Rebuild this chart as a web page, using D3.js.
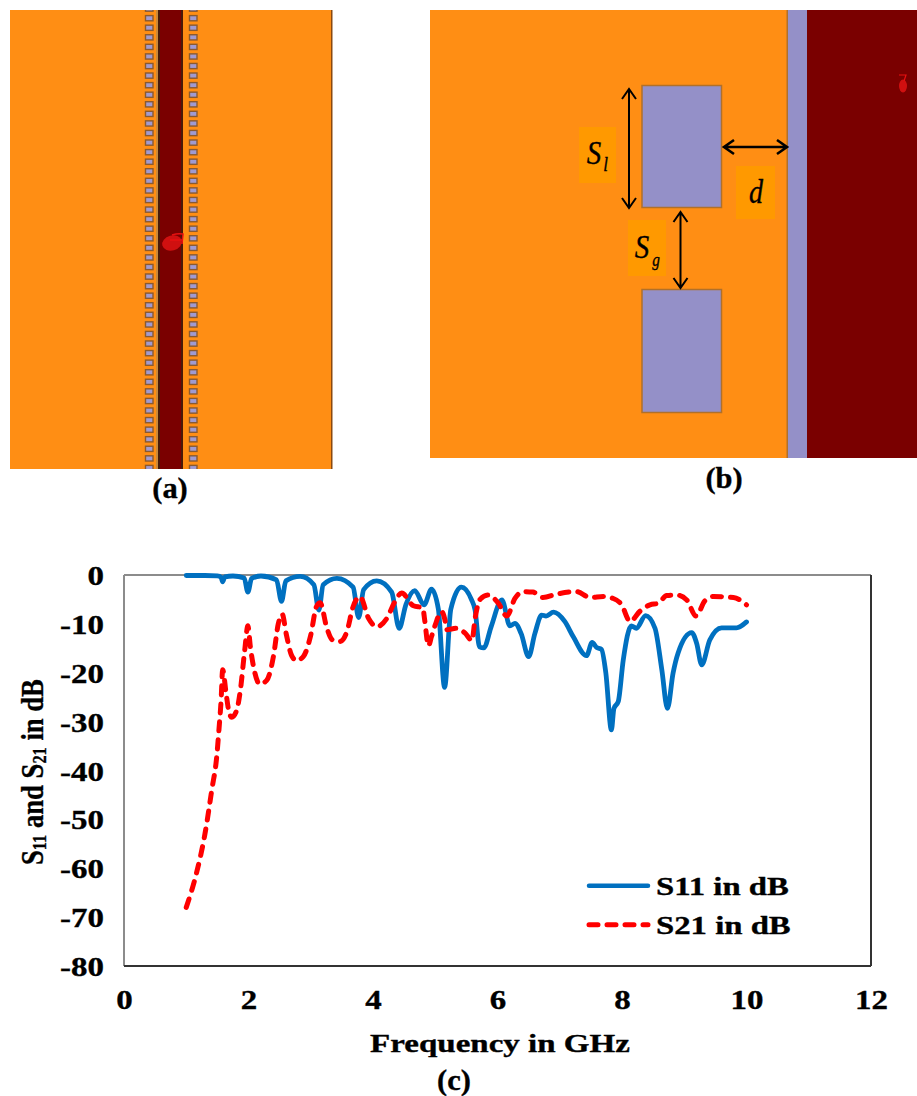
<!DOCTYPE html>
<html>
<head>
<meta charset="utf-8">
<script src="https://cdnjs.cloudflare.com/ajax/libs/d3/7.8.5/d3.min.js"></script>
<style>
  html, body { margin: 0; padding: 0; background: #fff; }
  svg { display: block; }
  text { font-family: "Liberation Serif", serif; font-weight: bold; fill: #000; stroke: #000; stroke-width: 0.35px; }
</style>
</head>
<body>
<svg id="chart" width="917" height="1096"></svg>
<script>
// S11
s11Freq = [1, 1.3, 1.5, 1.56, 1.585, 1.62, 1.75, 1.93, 1.99, 2.05, 2.2, 2.45, 2.53, 2.6, 2.83, 3.05, 3.13, 3.2, 3.42, 3.68, 3.77, 3.85, 4.06, 4.3, 4.42, 4.53, 4.67, 4.82, 4.94, 5.05, 5.15, 5.25, 5.42, 5.58, 5.64, 5.71, 5.78, 5.9, 6.07, 6.2, 6.28, 6.38, 6.5, 6.6, 6.71, 6.78, 6.9, 7.08, 7.22, 7.43, 7.52, 7.59, 7.67, 7.74, 7.83, 7.87, 7.94, 8.02, 8.15, 8.23, 8.38, 8.53, 8.64, 8.73, 8.82, 8.9, 9.12, 9.2, 9.28, 9.41, 9.6, 9.84, 10];
s11Db = [-0.1, -0.1, -0.2, -0.5, -1.4, -0.4, -0.2, -0.6, -3.5, -0.7, -0.2, -1, -5.4, -1.2, -0.3, -2, -7.2, -2, -0.7, -2.5, -8.7, -3, -1.2, -3.5, -10.9, -6, -3.2, -6.1, -2.9, -7, -23, -7, -2.5, -5, -7.2, -14.7, -14.9, -10.5, -5.1, -10.4, -9.9, -12, -16.7, -12, -8.2, -8.4, -7.6, -9.5, -12.7, -16.5, -13.8, -14.8, -15.2, -20, -31.7, -27.3, -25.9, -17.4, -10.4, -10.9, -8.3, -10.9, -19.4, -27.3, -20.1, -16, -11.8, -14, -18.4, -13.3, -10.8, -10.8, -9.6];

// S21
s21Freq = [1, 1.17, 1.3, 1.41, 1.49, 1.525, 1.56, 1.585, 1.64, 1.68, 1.73, 1.81, 1.87, 1.94, 1.99, 2.03, 2.08, 2.18, 2.29, 2.4, 2.48, 2.54, 2.61, 2.69, 2.77, 2.88, 3, 3.09, 3.15, 3.26, 3.35, 3.47, 3.58, 3.68, 3.79, 3.93, 4.06, 4.22, 4.35, 4.46, 4.65, 4.8, 4.83, 4.89, 4.94, 5, 5.1, 5.16, 5.18, 5.34, 5.48, 5.59, 5.64, 5.72, 5.85, 6.01, 6.15, 6.28, 6.41, 6.57, 6.73, 6.95, 7.27, 7.49, 7.7, 7.86, 7.99, 8.13, 8.29, 8.45, 8.58, 8.72, 8.88, 9.04, 9.19, 9.33, 9.47, 9.79, 10];
s21Db = [-68, -60.7, -53, -44, -37.1, -31.7, -25.6, -19.4, -24.2, -27.6, -29.1, -27.7, -23.5, -15.3, -10.4, -14.7, -18.7, -22.3, -21.6, -16.7, -9.9, -8, -12.3, -16.4, -17.5, -16.7, -12.3, -6.5, -5.7, -10.9, -13.3, -13.6, -11.6, -6.5, -4.4, -8.9, -10.6, -8.9, -5.5, -3.7, -6.3, -6.7, -9.2, -14.5, -12.6, -10.2, -7.5, -9.5, -11.2, -10.9, -11.9, -13.4, -8.9, -5, -4.1, -5.7, -8.4, -4.8, -3.4, -3.5, -4.6, -3.9, -3.4, -4.6, -4.4, -4.8, -6, -9.5, -7.4, -6.1, -5.8, -4.2, -4.1, -5.1, -8.4, -5.3, -4.4, -4.6, -6.1];

xTicks = [0, 2, 4, 6, 8, 10, 12];
yTicks = [0, -10, -20, -30, -40, -50, -60, -70, -80];
legendLabels = ["S11 in dB", "S21 in dB"];

let orange = "#ff8e14";
let lavender = "#9490c8";
let darkRed = "#7a0000";
let brown = "#b0702a";
let labelBox = "#ff9900";

let svg = d3.select("#chart");

//stretched text, the source picture is wider than tall
function label(g, str, x, y, size, sx, anchor) {
  return g
    .append("text")
    .attr("transform", "translate(" + x + "," + y + ") scale(" + sx + ",1)")
    .attr("text-anchor", anchor || "middle")
    .attr("font-size", size)
    .text(str);
}

function box(g, x, y, w, h, fill, stroke) {
  return g
    .append("rect")
    .attr("x", x)
    .attr("y", y)
    .attr("width", w)
    .attr("height", h)
    .attr("fill", fill)
    .attr("stroke", stroke || "none")
    .attr("stroke-width", stroke ? 1.5 : 0);
}

function arrow(g, x1, y1, x2, y2) {
  let head = 10;
  let wing = 7;
  let d;
  if (x1 == x2) {
    d =
      "M" + x1 + "," + y1 + "V" + y2 +
      "M" + (x1 - wing) + "," + (y1 + head) + "L" + x1 + "," + y1 + "L" + (x1 + wing) + "," + (y1 + head) +
      "M" + (x1 - wing) + "," + (y2 - head) + "L" + x1 + "," + y2 + "L" + (x1 + wing) + "," + (y2 - head);
  } else {
    d =
      "M" + x1 + "," + y1 + "H" + x2 +
      "M" + (x1 + head) + "," + (y1 - wing) + "L" + x1 + "," + y1 + "L" + (x1 + head) + "," + (y1 + wing) +
      "M" + (x2 - head) + "," + (y2 - wing) + "L" + x2 + "," + y2 + "L" + (x2 - head) + "," + (y2 + wing);
  }
  g.append("path")
    .attr("d", d)
    .attr("fill", "none")
    .attr("stroke", "#000")
    .attr("stroke-width", x1 == x2 ? 2 : 2.6);
}

function drawPanelA() {
  let g = svg.append("g");
  let top = 10;
  let bottom = 469;

  svg
    .append("clipPath")
    .attr("id", "panelA")
    .append("rect")
    .attr("x", 10)
    .attr("y", top)
    .attr("width", 322)
    .attr("height", bottom - top);

  box(g, 10, top, 322, bottom - top, orange);
  box(g, 331, top, 1.5, bottom - top, "#8a4a10");
  box(g, 156, top, 2, bottom - top, "#c98a3a");
  box(g, 158, top, 25, bottom - top, "#4a1a08");
  box(g, 160, top, 21, bottom - top, darkRed);

  //the two rows of slots, cut by the panel edges
  let pitch = 9.57;
  let slots = d3.range(-25, 25).map((k) => 238.3 + k * pitch);
  let slotG = g.append("g").attr("clip-path", "url(#panelA)");
  [145.5, 189.5].forEach((x) => {
    slotG
      .selectAll(null)
      .data(slots)
      .enter()
      .append("rect")
      .attr("x", x)
      .attr("y", (y) => y - 2.6)
      .attr("width", 7.5)
      .attr("height", 5.2)
      .attr("fill", "#a09ad0")
      .attr("stroke", "#8a5a30")
      .attr("stroke-width", 1.4);
  });

  //port marker
  g.append("ellipse")
    .attr("cx", 172)
    .attr("cy", 243)
    .attr("rx", 10)
    .attr("ry", 7.5)
    .attr("fill", "#d01010")
    .attr("transform", "rotate(-15 172 243)");
  g.append("path")
    .attr("d", "M172,235 Q178,233 183,234 L182,244 M183,240 H170")
    .attr("fill", "none")
    .attr("stroke", "#e81010")
    .attr("stroke-width", 1.5);

  label(svg, "(a)", 170, 498, 29, 1.05);
}

function drawPanelB() {
  let g = svg.append("g");
  let top = 10;
  let bottom = 458;

  box(g, 430, top, 358, bottom - top, orange);
  box(g, 786.5, top, 1.5, bottom - top, brown);
  box(g, 788, top, 19, bottom - top, lavender);
  box(g, 807, top, 110, bottom - top, darkRed);

  box(g, 642, 85.5, 79.5, 122, lavender, brown);
  box(g, 642, 289.5, 79.5, 123, lavender, brown);

  box(g, 579, 127, 37, 56, labelBox);
  box(g, 736, 166, 39, 53, labelBox);
  box(g, 628, 220, 38, 56, labelBox);

  arrow(g, 629, 89, 629, 208);
  arrow(g, 680.5, 212, 680.5, 288);
  arrow(g, 724, 147, 787, 147);

  let math = [
    ["S", 594, 164, 34],
    ["l", 605.5, 171, 20],
    ["d", 756, 203, 33],
    ["S", 642, 258, 34],
    ["g", 656, 266, 18],
  ];
  math.forEach((m) => {
    label(g, m[0], m[1], m[2], m[3], 0.85)
      .style("font-style", "italic")
      .style("font-weight", "normal");
  });

  g.append("ellipse")
    .attr("cx", 903)
    .attr("cy", 86)
    .attr("rx", 4)
    .attr("ry", 6.5)
    .attr("fill", "#d01010");
  g.append("path")
    .attr("d", "M899,75 H906 L904,81")
    .attr("fill", "none")
    .attr("stroke", "#e81010")
    .attr("stroke-width", 1.2);

  label(svg, "(b)", 724, 488, 29, 1.05);
}

function drawChart() {
  let paddingLeft = 124;
  let paddingRight = 871;
  let paddingTop = 575;
  let paddingBottom = 966;

  let xScale = d3.scaleLinear().domain([0, 12]).range([paddingLeft, paddingRight]);
  let yScale = d3.scaleLinear().domain([0, -80]).range([paddingTop, paddingBottom]);

  let g = svg.append("g");

  //plain hyphen in the labels, as in the source
  let xAxis = d3.axisBottom(xScale).tickValues(xTicks).tickSize(0).tickPadding(0).tickFormat((d) => String(d));
  let yAxis = d3.axisLeft(yScale).tickValues(yTicks).tickSize(0).tickPadding(0).tickFormat((d) => String(d));

  let xG = g
    .append("g")
    .attr("transform", "translate(0," + paddingBottom + ")")
    .call(xAxis);
  let yG = g
    .append("g")
    .attr("transform", "translate(" + paddingLeft + ",0)")
    .call(yAxis);

  xG.select(".domain").remove();
  yG.select(".domain").remove();

  xG.selectAll("text")
    .attr("y", null)
    .attr("dy", null)
    .attr("font-size", 27)
    .attr("font-family", "Liberation Serif")
    .attr("transform", "translate(0,43) scale(1.22,1)");
  yG.selectAll("text")
    .attr("x", null)
    .attr("dy", null)
    .attr("font-size", 27)
    .attr("font-family", "Liberation Serif")
    .attr("transform", "translate(-20,9.5) scale(1.22,1)");

  //frame: grey top and left, dark right and bottom
  let frame = [
    [paddingLeft, paddingTop, paddingRight, paddingTop, "#8c8c8c"],
    [paddingLeft, paddingTop, paddingLeft, paddingBottom, "#8c8c8c"],
    [paddingRight, paddingTop, paddingRight, paddingBottom, "#333"],
    [paddingLeft, paddingBottom, paddingRight, paddingBottom, "#333"],
  ];
  frame.forEach((f) => {
    g.append("line")
      .attr("x1", f[0])
      .attr("y1", f[1])
      .attr("x2", f[2])
      .attr("y2", f[3])
      .attr("stroke", f[4])
      .attr("stroke-width", 2);
  });

  let line = d3
    .line()
    .curve(d3.curveMonotoneX)
    .x((d) => xScale(d[0]))
    .y((d) => yScale(d[1]));

  g.append("path")
    .datum(d3.zip(s11Freq, s11Db))
    .attr("fill", "none")
    .attr("stroke", "#0070c0")
    .attr("stroke-width", 4.8)
    .attr("stroke-linecap", "round")
    .attr("d", line);

  g.append("path")
    .datum(d3.zip(s21Freq, s21Db))
    .attr("fill", "none")
    .attr("stroke", "#ff0000")
    .attr("stroke-width", 5)
    .attr("stroke-dasharray", "9 9")
    .attr("stroke-linecap", "round")
    .attr("d", line);

  //legend
  let legendY = [885.7, 924.7];
  legendLabels.forEach((name, i) => {
    let item = g
      .append("line")
      .attr("x1", 589)
      .attr("x2", 648)
      .attr("y1", legendY[i])
      .attr("y2", legendY[i])
      .attr("stroke", i == 0 ? "#0070c0" : "#ff0000")
      .attr("stroke-width", i == 0 ? 4.5 : 5)
      .attr("stroke-linecap", "round");
    if (i == 1) item.attr("stroke-dasharray", "9 9");
    label(g, name, 656, legendY[i] + 9.5, 26, 1.26, "start");
  });

  //axis titles
  label(g, "Frequency in GHz", 500, 1052, 26, 1.27);
  label(g, "(c)", 454, 1090, 29, 1.05);

  let yTitle = g
    .append("text")
    .attr("transform", "translate(43,865) rotate(-90) scale(0.86,1)")
    .attr("font-size", 31);
  let parts = [
    ["S", 31, 0],
    ["11", 19, 3],
    [" and S", 31, -3],
    ["21", 19, 3],
    [" in dB", 31, -3],
  ];
  parts.forEach((p) => {
    yTitle
      .append("tspan")
      .attr("font-size", p[1])
      .attr("dy", p[2])
      .attr("xml:space", "preserve")
      .text(p[0]);
  });
}

drawPanelA();
drawPanelB();
drawChart();
</script>
</body>
</html>
